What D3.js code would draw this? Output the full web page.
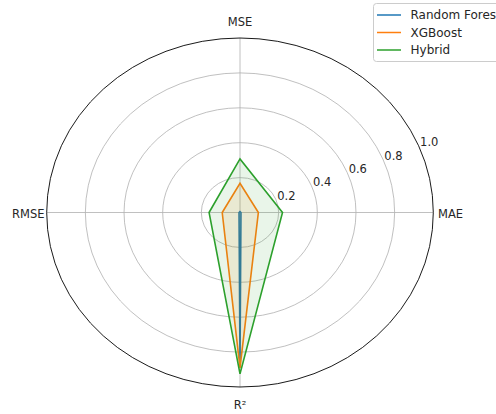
<!DOCTYPE html>
<html><head><meta charset="utf-8">
<script src="https://cdn.jsdelivr.net/npm/d3@7"></script>
<style>body{margin:0;background:#fff}svg{display:block}text{font-family:"DejaVu Sans",sans-serif;fill:#262626}</style>
</head><body><svg id="c" width="496" height="414"></svg>
<script>
const metrics = ["MAE","MSE","RMSE","R²"];
const seriesNames = ["Random Forest","XGBoost","Hybrid"];
const rfValues = [0.005, 0.005, 0.005, 0.875];
const xgbValues = [0.095, 0.167, 0.092, 0.89];
const hybridValues = [0.22, 0.307, 0.16, 0.925];
const rTicks = [0.2, 0.4, 0.6, 0.8, 1.0];
const colors = ["#1f77b4","#ff7f0e","#2ca02c"];
const allSeries = [rfValues, xgbValues, hybridValues];

const svg = d3.select("#c");
const cx = 240, cy = 212.5;
const rx = d3.scaleLinear().domain([0,1]).range([0,193.3]);
const ry = d3.scaleLinear().domain([0,1]).range([0,174.5]);
const ang = d3.scaleLinear().domain([0, metrics.length]).range([0, 2*Math.PI]);
const pt = (v,i) => [cx + rx(v)*Math.cos(ang(i)), cy - ry(v)*Math.sin(ang(i))];

const g = svg.append("g");
g.selectAll("ellipse.grid").data(rTicks.slice(0,-1)).join("ellipse")
 .attr("cx",cx).attr("cy",cy).attr("rx",d=>rx(d)).attr("ry",d=>ry(d))
 .attr("fill","none").attr("stroke","#b0b0b0").attr("stroke-width",0.8);
g.selectAll("line.spoke").data(metrics).join("line")
 .attr("x1",cx).attr("y1",cy)
 .attr("x2",(d,i)=>pt(1,i)[0]).attr("y2",(d,i)=>pt(1,i)[1])
 .attr("stroke","#b0b0b0").attr("stroke-width",0.8);

const line = d3.line().curve(d3.curveLinearClosed);
allSeries.forEach((vals,k)=>{
  const pts = vals.map((v,i)=>pt(v,i));
  g.append("path").attr("d",line(pts)).attr("fill",colors[k]).attr("fill-opacity",0.1).attr("stroke","none");
  g.append("path").attr("d",line(pts)).attr("fill","none").attr("stroke",colors[k]).attr("stroke-width",1.6).attr("stroke-linejoin","miter");
});

g.append("ellipse").attr("cx",cx).attr("cy",cy).attr("rx",rx(1)).attr("ry",ry(1))
 .attr("fill","none").attr("stroke","#000").attr("stroke-width",0.9);

const la = Math.PI/8;
g.selectAll("text.rt").data(rTicks).join("text")
 .attr("x",d=>cx + rx(d)*Math.cos(la)+1.5)
 .attr("y",d=>cy - ry(d)*Math.sin(la)+0.5)
 .attr("font-size",11.5).text(d=>d.toFixed(1));

const lab = [
  {x:438, y:218, a:"start"},
  {x:240, y:26, a:"middle"},
  {x:44.5, y:218, a:"end"},
  {x:240, y:409, a:"middle"}
];
g.selectAll("text.ml").data(metrics).join("text")
 .attr("x",(d,i)=>lab[i].x).attr("y",(d,i)=>lab[i].y).attr("text-anchor",(d,i)=>lab[i].a)
 .attr("font-size",11.5).text(d=>d);

const lg = svg.append("g");
lg.append("rect").attr("x",373.5).attr("y",3.5).attr("width",130).attr("height",58).attr("rx",3)
 .attr("fill","#fff").attr("fill-opacity",0.8).attr("stroke","#cccccc");
seriesNames.forEach((n,k)=>{
  const y = 15 + k*17.5;
  lg.append("line").attr("x1",377).attr("x2",401).attr("y1",y).attr("y2",y).attr("stroke",colors[k]).attr("stroke-width",1.5);
  lg.append("text").attr("x",410.5).attr("y",y+4.2).attr("font-size",12).text(n);
});
</script></body></html>
